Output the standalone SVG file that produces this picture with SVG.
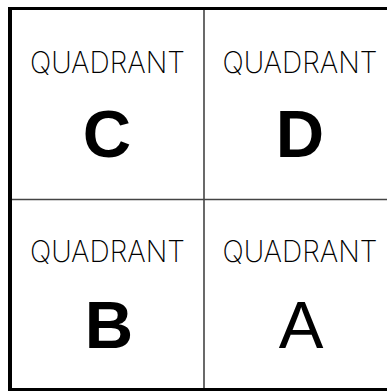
<svg xmlns="http://www.w3.org/2000/svg" width="387" height="391" viewBox="0 0 387 391">
<style>
.lbl{font-family:Inter,"Liberation Sans",sans-serif;font-weight:200;font-size:30px;fill:#000;text-anchor:middle}
.big{font-family:"Liberation Sans",Arial,sans-serif;font-size:67px;fill:#000;text-anchor:middle}
.b{font-weight:bold}
.div{stroke:#444;stroke-width:1.6;fill:none}
</style>
<rect x="0" y="0" width="387" height="391" fill="#fff"/>
<g id="connectors">
<line class="div" x1="204" y1="9" x2="204" y2="389"/>
<line class="div" x1="10" y1="199.5" x2="387" y2="199.5"/>
</g>
<g id="frame">
<path d="M10,8.5 H400 M10,389.5 H400" stroke="#000" stroke-width="3" fill="none"/>
<line x1="10" y1="7" x2="10" y2="391" stroke="#000" stroke-width="4"/>
</g>
<g id="quadrant-c">
<text class="lbl" x="107.5" y="73" textLength="155" lengthAdjust="spacingAndGlyphs">QUADRANT</text>
<text class="big b" x="107" y="157">C</text>
</g>
<g id="quadrant-d">
<text class="lbl" x="300" y="73" textLength="155" lengthAdjust="spacingAndGlyphs">QUADRANT</text>
<text class="big b" x="300" y="157">D</text>
</g>
<g id="quadrant-b">
<text class="lbl" x="107.5" y="262" textLength="155" lengthAdjust="spacingAndGlyphs">QUADRANT</text>
<text class="big b" x="109" y="348">B</text>
</g>
<g id="quadrant-a">
<text class="lbl" x="300" y="262" textLength="155" lengthAdjust="spacingAndGlyphs">QUADRANT</text>
<text class="big" x="301" y="348">A</text>
</g>
</svg>
